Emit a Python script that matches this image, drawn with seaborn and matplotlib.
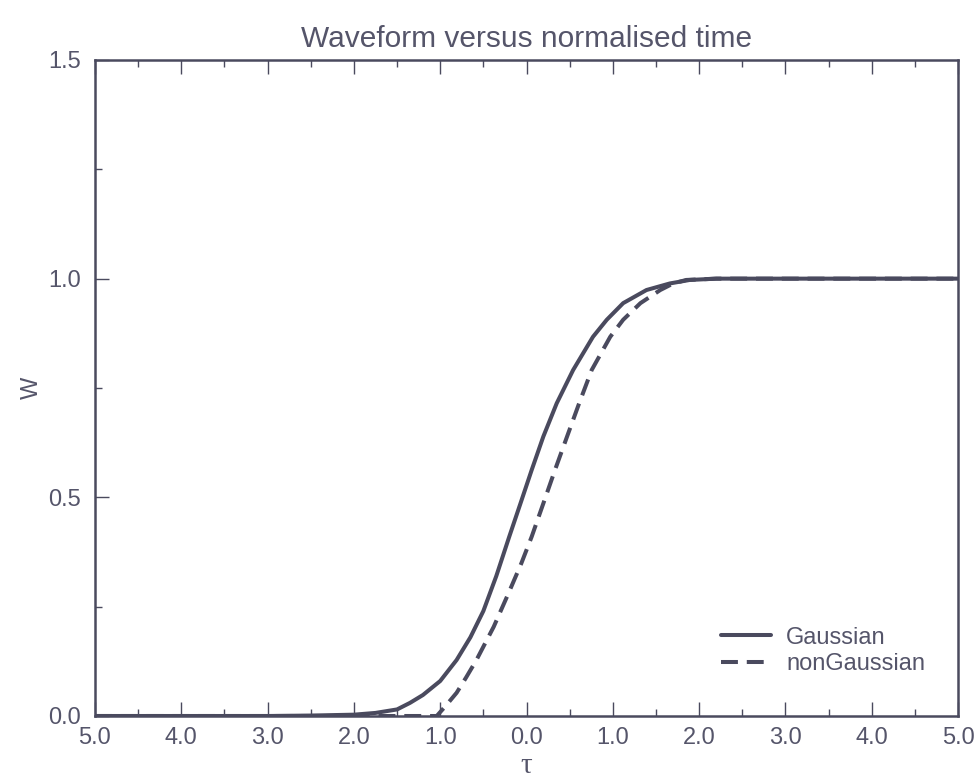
"""
Waveform versus normalised time: Gaussian vs nonGaussian rise.
"""

import matplotlib

matplotlib.use("Agg")
import matplotlib.pyplot as plt
import pandas as pd
import seaborn as sns
from matplotlib.ticker import FixedLocator, MultipleLocator

# values
gauss_tau = [-5.0, -4.0, -3.0, -2.5, -2.0, -1.75, -1.5, -1.35, -1.2, -1.0,
             -0.81, -0.65, -0.5, -0.35, -0.2, -0.07, 0.06, 0.195, 0.35,
             0.54, 0.77, 0.93, 1.12, 1.39, 1.66, 1.89, 2.2, 3.0, 4.0, 5.0]
gauss_w = [0.0, 0.0, 0.0, 0.001, 0.003, 0.007, 0.015, 0.03, 0.048, 0.08,
           0.128, 0.18, 0.24, 0.32, 0.41, 0.486, 0.5625, 0.639, 0.715,
           0.791, 0.867, 0.906, 0.944, 0.974, 0.989, 0.997, 1.0, 1.0, 1.0, 1.0]

nongauss_tau = [-5.0, -4.0, -3.0, -2.0, -1.5, -1.04, -0.95, -0.81, -0.70,
                -0.58, -0.38, -0.21, -0.06, 0.06, 0.195, 0.33, 0.47, 0.61,
                0.755, 0.97, 1.12, 1.32, 1.55, 1.70, 1.85, 2.2, 3.0, 4.0, 5.0]
nongauss_w = [0.0, 0.0, 0.0, 0.0, 0.0, 0.0, 0.02, 0.053, 0.088,
              0.128, 0.204, 0.28, 0.349, 0.41, 0.486, 0.5625, 0.639, 0.715,
              0.791, 0.867, 0.906, 0.944, 0.974, 0.989, 0.997, 1.0, 1.0, 1.0, 1.0]

x_ticks = [-5.0, -4.0, -3.0, -2.0, -1.0, 0.0, 1.0, 2.0, 3.0, 4.0, 5.0]
x_tick_labels = ["5.0", "4.0", "3.0", "2.0", "1.0", "0.0",
                 "1.0", "2.0", "3.0", "4.0", "5.0"]
y_ticks = [0.0, 0.5, 1.0, 1.5]
y_tick_labels = ["0.0", "0.5", "1.0", "1.5"]

INK = "#4a4a5e"
TEXT = "#55556a"

df = pd.concat([
    pd.DataFrame({"tau": gauss_tau, "W": gauss_w, "series": "Gaussian"}),
    pd.DataFrame({"tau": nongauss_tau, "W": nongauss_w, "series": "nonGaussian"}),
])

sns.set_style("white")
plt.rcParams["font.family"] = ["Liberation Sans", "DejaVu Sans"]

fig = plt.figure(figsize=(9.76, 7.78), dpi=100)
ax = fig.add_axes([0.0973, 0.0797, 0.8843, 0.8432])

sns.lineplot(
    data=df, x="tau", y="W", hue="series", style="series",
    palette={"Gaussian": INK, "nonGaussian": INK},
    dashes={"Gaussian": "", "nonGaussian": (4.2, 2.2)},
    sort=False, estimator=None, linewidth=2.9, ax=ax,
)

ax.set_xlim(-5, 5)
ax.set_ylim(0, 1.5)
ax.xaxis.set_major_locator(FixedLocator(x_ticks))
ax.set_xticklabels(x_tick_labels)
ax.xaxis.set_minor_locator(MultipleLocator(0.5))
ax.yaxis.set_major_locator(FixedLocator(y_ticks))
ax.set_yticklabels(y_tick_labels)
ax.yaxis.set_minor_locator(MultipleLocator(0.25))

ax.tick_params(axis="both", which="both", direction="in", colors=INK,
               labelcolor=TEXT, labelsize=17, width=1.0)
ax.tick_params(axis="both", which="major", length=10)
ax.tick_params(axis="both", which="minor", length=5)
ax.tick_params(axis="x", which="both", top=True, bottom=True, pad=8)
ax.tick_params(axis="y", which="both", left=True, right=False, pad=10)

for side in ax.spines.values():
    side.set_visible(True)
    side.set_color(INK)
    side.set_linewidth(1.8)

ax.set_title("Waveform versus normalised time", fontsize=21.5, color=TEXT, pad=9)
ax.set_xlabel("τ", fontsize=21, color=TEXT, family=["Liberation Serif", "DejaVu Serif"],
              labelpad=3)
ax.set_ylabel("W", fontsize=17, color=TEXT, labelpad=4)

leg = ax.legend(loc="lower right", frameon=False, fontsize=17,
                handlelength=2.1, handletextpad=0.65, labelspacing=0.2,
                borderpad=0, borderaxespad=0, bbox_to_anchor=(0.962, 0.062))
for t in leg.get_texts():
    t.set_color(TEXT)

fig.savefig("out.png", dpi=100)
